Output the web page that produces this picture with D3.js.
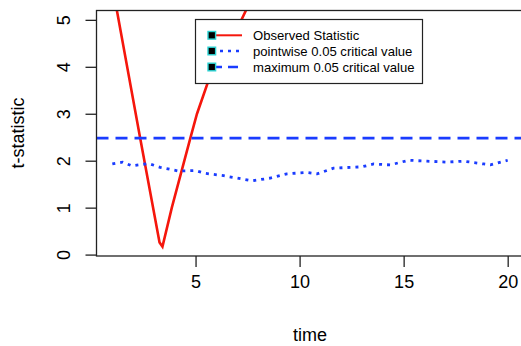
<!DOCTYPE html>
<html><head><meta charset="utf-8">
<script src="https://cdn.jsdelivr.net/npm/d3@7"></script>
<style>body{margin:0;background:#fff}svg{display:block}text{font-family:"Liberation Sans",Arial,sans-serif;fill:#000}</style>
</head><body>
<script>
const obsTime = [1, 1.22, 2.34, 3.27, 3.41, 3.86, 4.75, 5.07, 5.85, 6.67, 7.42, 8];
const obsValue = [5.73, 5.2, 2.48, 0.26, 0.17, 1.0, 2.48, 3.0, 4.0, 4.5, 5.2, 5.5];
const pwTime = [1, 1.49, 1.94, 2.74, 3.3, 4.18, 4.99, 5.47, 6.35, 6.99, 7.71, 8.59, 9.39, 10.36, 10.84, 11.63, 13.0, 13.56, 14.36, 15.24, 16.12, 17.08, 17.88, 18.85, 19.17, 20];
const pwValue = [1.93, 1.97, 1.89, 1.94, 1.86, 1.78, 1.79, 1.73, 1.68, 1.63, 1.57, 1.63, 1.72, 1.75, 1.72, 1.84, 1.87, 1.93, 1.91, 2.01, 1.99, 1.97, 1.99, 1.93, 1.91, 2.01];
const maxCrit = 2.48;
const xTicks = [5, 10, 15, 20];
const yTicks = [0, 1, 2, 3, 4, 5];
const legendLabels = ["Observed Statistic", "pointwise 0.05 critical value", "maximum 0.05 critical value"];

const W = 521, H = 346;
const blue = "#1a3cff", red = "#f5160c";
const svg = d3.select("body").append("svg").attr("width", W).attr("height", H);
svg.append("rect").attr("width", W).attr("height", H).attr("fill", "#fff");

const x = d3.scaleLinear().domain([0.24, 20.76]).range([96.5, 523.5]);
const y = d3.scaleLinear().domain([-0.03, 5.21]).range([256, 10]);

svg.append("clipPath").attr("id", "clip").append("rect")
  .attr("x", 96.5).attr("y", 10).attr("width", 427).attr("height", 246);
const g = svg.append("g").attr("clip-path", "url(#clip)");

const line = d3.line().x(d => x(d[0])).y(d => y(d[1]));
g.append("path").datum(obsTime.map((t, i) => [t, obsValue[i]]))
  .attr("d", line).attr("fill", "none").attr("stroke", red).attr("stroke-width", 2.6);
g.append("path").datum(pwTime.map((t, i) => [t, pwValue[i]]))
  .attr("d", line).attr("fill", "none").attr("stroke", blue).attr("stroke-width", 2.8)
  .attr("stroke-dasharray", "3,5");
g.append("path").datum([[0.24, maxCrit], [20.76, maxCrit]])
  .attr("d", line).attr("fill", "none").attr("stroke", blue).attr("stroke-width", 2.6)
  .attr("stroke-dasharray", "12,7");

// box
svg.append("rect").attr("x", 96.5).attr("y", 10.5).attr("width", 427).attr("height", 245.5)
  .attr("fill", "none").attr("stroke", "#222").attr("stroke-width", 1.3);

// x axis
const xa = svg.append("g").attr("transform", "translate(0,256)")
  .call(d3.axisBottom(x).tickValues(xTicks).tickSize(11).tickPadding(8).tickFormat(d3.format("d")));
xa.select(".domain").remove();
xa.selectAll("line").attr("stroke", "#222").attr("stroke-width", 1.3);
xa.selectAll("text").attr("font-size", 18).attr("font-family", "Liberation Sans, Arial, sans-serif").attr("fill", "#111");

// y axis
const ya = svg.append("g").attr("transform", "translate(96.5,0)")
  .call(d3.axisLeft(y).tickValues(yTicks).tickSize(11).tickFormat(d3.format("d")));
ya.select(".domain").remove();
ya.selectAll("line").attr("stroke", "#222").attr("stroke-width", 1.3);
ya.selectAll("text").attr("font-size", 18).attr("font-family", "Liberation Sans, Arial, sans-serif").attr("fill", "#111")
  .attr("x", null).attr("dy", null)
  .attr("transform", "translate(-33,0) rotate(-90)").attr("text-anchor", "middle").attr("dominant-baseline", "central");

// titles
svg.append("text").attr("x", 310).attr("y", 341).attr("text-anchor", "middle")
  .attr("font-size", 18).attr("fill", "#111").text("time");
svg.append("text").attr("transform", "translate(24,133) rotate(-90)").attr("text-anchor", "middle")
  .attr("font-size", 18).attr("fill", "#111").text("t-statistic");

// legend
const lg = svg.append("g");
lg.append("rect").attr("x", 195.5).attr("y", 19.5).attr("width", 227).attr("height", 64)
  .attr("fill", "#fff").attr("stroke", "#222").attr("stroke-width", 1.2);
const rowsY = [35.3, 51, 67];
const styles = [
  {c: red, dash: null, w: 2},
  {c: blue, dash: "3,5", w: 2.4},
  {c: blue, dash: "10,6", w: 2.4}
];
legendLabels.forEach((lab, i) => {
  const ry = rowsY[i];
  lg.append("line").attr("x1", 212).attr("x2", 242).attr("y1", ry).attr("y2", ry)
    .attr("stroke", styles[i].c).attr("stroke-width", styles[i].w)
    .attr("stroke-dasharray", styles[i].dash);
  lg.append("rect").attr("x", 208).attr("y", ry - 3.8).attr("width", 7.6).attr("height", 7.6)
    .attr("fill", "#000").attr("stroke", "#2cd3d3").attr("stroke-width", 1.4);
  lg.append("text").attr("x", 253).attr("y", ry).attr("dominant-baseline", "central")
    .attr("font-size", 13.1).attr("fill", "#111").text(lab);
});
</script>
</body></html>
